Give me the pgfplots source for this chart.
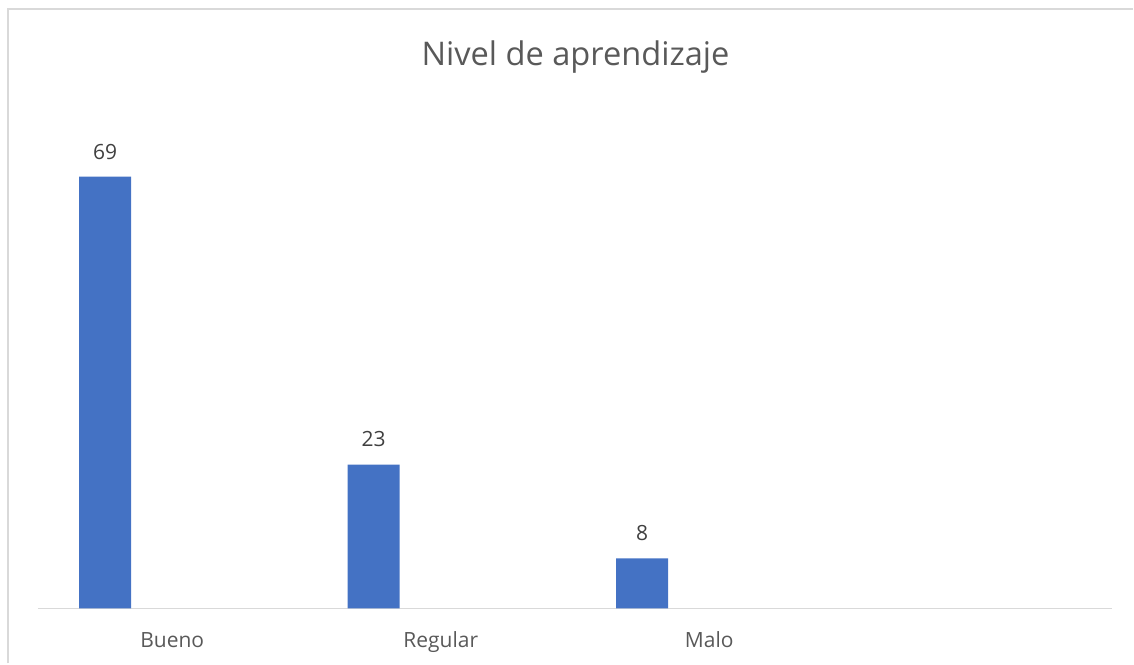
\documentclass[border=0pt]{standalone}
\usepackage{pgfplots}
\pgfplotsset{compat=1.18}
\usepackage{fontspec}
\setmainfont{Open Sans}
\definecolor{barblue}{HTML}{4472C4}
\definecolor{txtgray}{HTML}{595959}
\definecolor{lblgray}{HTML}{404040}
\definecolor{linegray}{HTML}{D9D9D9}
\begin{document}
\begin{tikzpicture}
\path (0,0) rectangle (567pt,332pt);
\draw[linegray, line width=1pt] (4.25pt,0) -- (4.25pt,327.25pt) -- (567pt,327.25pt);
\node[txtgray, font=\fontsize{16.3}{19}\selectfont, inner sep=0] at (288pt,303.5pt) {Nivel de aprendizaje};
\begin{axis}[
  at={(19pt,27.5pt)}, anchor=south west,
  width=537.5pt, height=250.5pt, scale only axis,
  xmin=0, xmax=4, ymin=0, ymax=80,
  axis x line*=bottom, axis y line=none,
  x axis line style={linegray, line width=0.75pt, -},
  xtick={0.5,1.5,2.5}, xticklabels={Bueno,Regular,Malo},
  major tick length=0pt,
  xticklabel style={txtgray, font=\fontsize{10.5}{12}\selectfont, anchor=base, inner sep=0, yshift=-19.6pt},
  ytick=\empty,
  /pgf/number format/assume math mode=true,
  clip=false,
]
\addplot[ybar, bar width=0.1935, bar shift=0pt, fill=barblue, draw=none,
  nodes near coords, every node near coord/.append style={lblgray, font=\fontsize{10.5}{12}\selectfont, inner sep=0, anchor=south, yshift=8.5pt}]
  coordinates {(0.25,69) (1.25,23) (2.25,8)};
\end{axis}
\end{tikzpicture}
\end{document}
